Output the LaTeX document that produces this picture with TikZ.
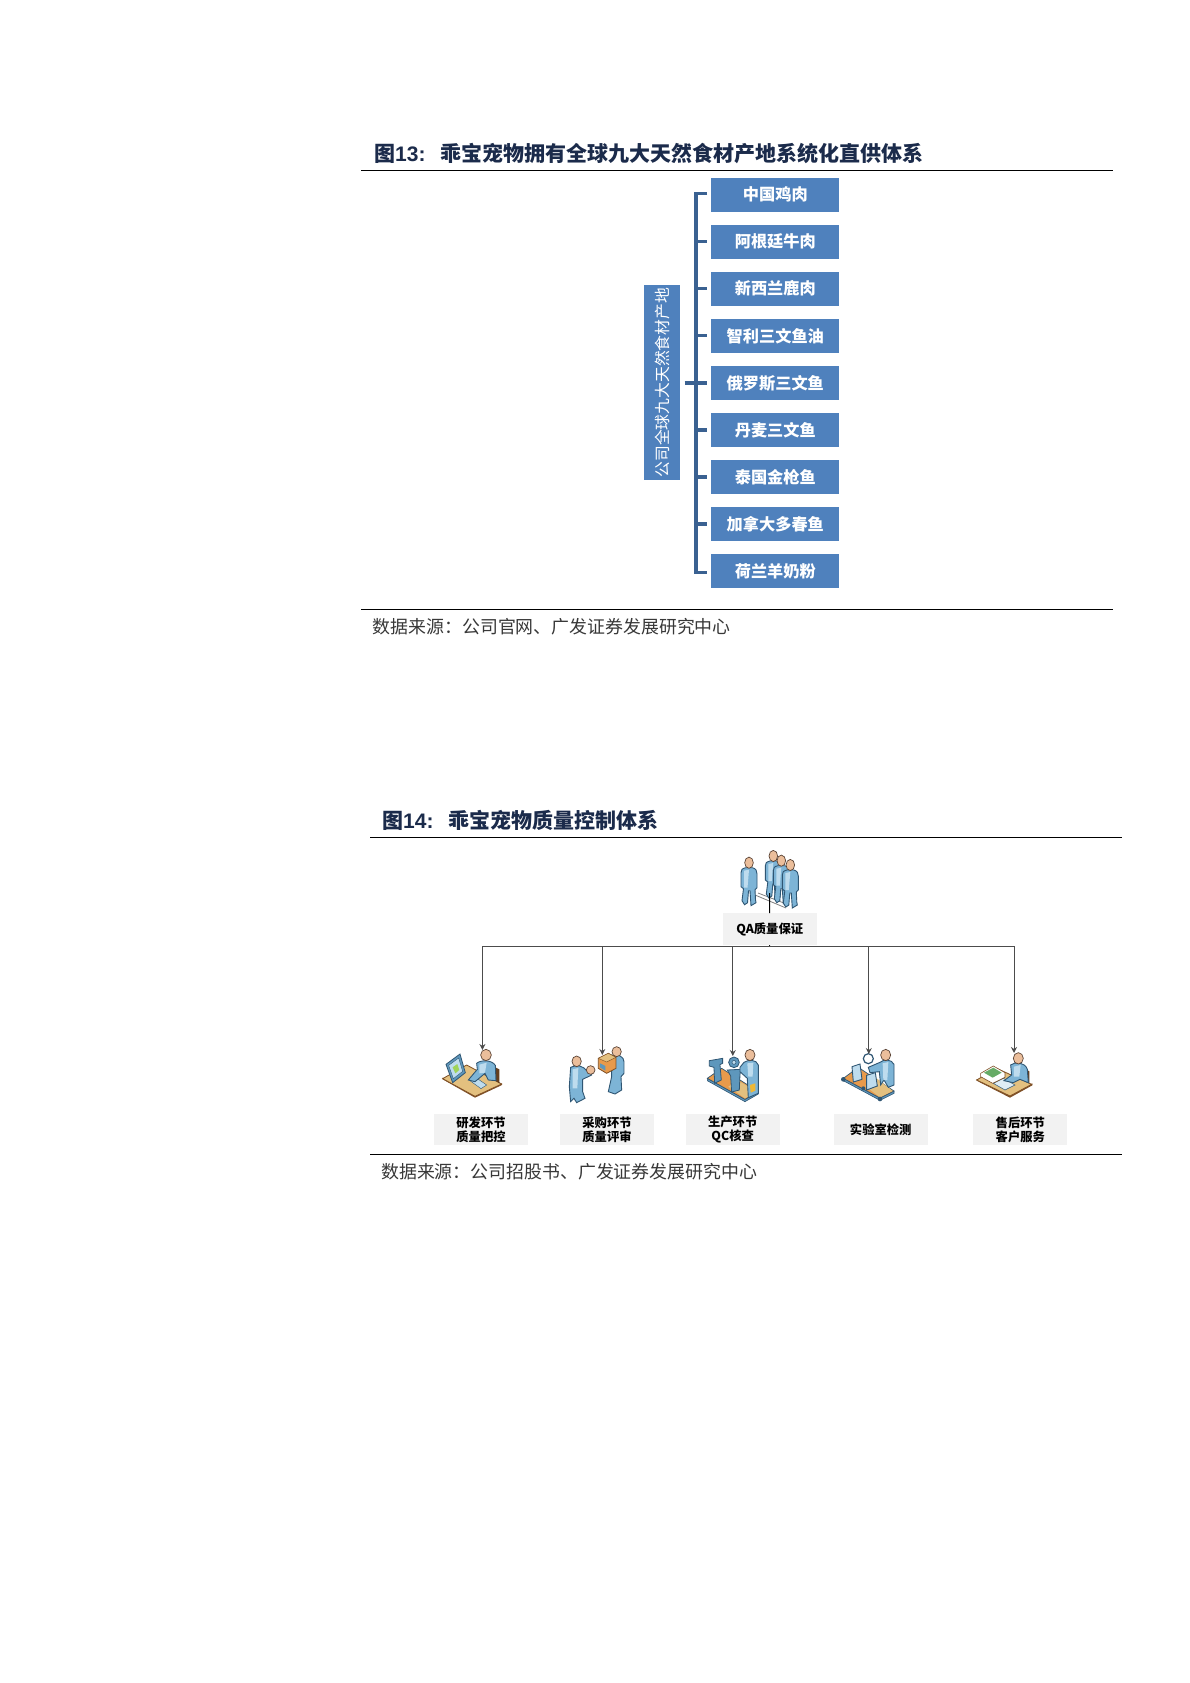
\documentclass[tikz,border=0pt]{standalone}
\usepackage{fontspec}
\usetikzlibrary{arrows.meta,calc}
\newfontfamily\cjkf{Noto Sans CJK SC}
\newfontfamily\latf{Liberation Sans}
\definecolor{navy}{HTML}{1B2B4B}
\definecolor{boxblue}{HTML}{4F81BD}
\definecolor{brk}{HTML}{3A6191}
\definecolor{pale}{HTML}{F2F2F2}
\definecolor{shirt}{HTML}{7DB4D6}
\definecolor{shirtd}{HTML}{5E97BC}
\definecolor{shirtl}{HTML}{BEDCEE}
\definecolor{edgeb}{HTML}{2F5673}
\definecolor{skin}{HTML}{EBBE9B}
\definecolor{skinedge}{HTML}{5B4436}
\definecolor{wood}{HTML}{E3C07F}
\definecolor{woodd}{HTML}{7E4F25}
\definecolor{belt}{HTML}{E89A4B}
\definecolor{machine}{HTML}{5E97BC}
\tikzset{
  x=1pt,y=-1pt,
  ttl/.style={anchor=west,inner sep=0pt,text=navy,font=\cjkf\bfseries\fontsize{21}{21}\selectfont},
  src/.style={anchor=west,inner sep=0pt,text=black!78,font=\cjkf\fontsize{17.9}{18}\selectfont},
  rulel/.style={line width=1pt,black},
  srcbox/.style={fill=boxblue,draw=none,minimum width=128pt,minimum height=34pt,inner sep=0pt,text=white,font=\cjkf\bfseries\fontsize{16.2}{16}\selectfont},
  rootbox/.style={fill=boxblue,draw=none,minimum width=36pt,minimum height=194.5pt,inner sep=0pt,text=white,font=\cjkf\fontsize{15.8}{16}\selectfont},
  brack/.style={line width=3.2pt,brk},
  stepbox/.style={fill=pale,draw=none,minimum width=94pt,minimum height=31pt,inner sep=0pt,align=center,text=black,font=\cjkf\bfseries\fontsize{12.3}{14.3}\selectfont},
  conn/.style={line width=1pt,black!70},
  arr/.style={conn,-{Stealth[length=6pt,width=6pt]}},
  skinp/.style={fill=skin,draw=skinedge,line width=.7pt},
  shirtp/.style={fill=shirt,draw=edgeb,line width=.9pt},
  woodp/.style={fill=wood,draw=woodd,line width=.8pt},
  mach/.style={fill=machine,draw=edgeb,line width=.8pt},
  standing/.pic={
    \path[shirtp] (-3.5,5) -- (3.5,5) .. controls (7,6) and (8,8) .. (8,11) -- (8,25) -- (6,27) -- (6.5,37) -- (7,40) -- (2,43) -- (1,28) -- (-.5,28) -- (-1.5,40) -- (-4.5,42) -- (-7,38) -- (-5.5,26) -- (-8,24) -- (-8,10) .. controls (-8,7) and (-7,6) .. (-3.5,5) -- cycle;
    \fill[shirtl] (-5,8) -- (0,7) -- (-1.5,25) -- (-5,25) -- cycle;
    \path[skinp] (0,0) ellipse (4.3pt and 5.6pt);
  }
}
\begin{document}
\begin{tikzpicture}
\useasboundingbox (0,0) rectangle (1190,1683);
\fill[white] (0,0) rectangle (1190,1683);

% ---------- Figure 13
\node[ttl] (t13) at (374,154) {图{\latf 13:}\hspace{14.5pt}乖宝宠物拥有全球九大天然食材产地系统化直供体系};
\coordinate (r13a) at (361,170.5); \coordinate (r13b) at (1113,170.5);
\draw[rulel] (r13a) -- (r13b);
\coordinate (r13c) at (361,609.3); \coordinate (r13d) at (1113,609.3);
\draw[rulel] (r13c) -- (r13d);
\node[src] (s13) at (372.5,626.5) {数据来源：公司官网、广发证券发展研究中心};

\node[rootbox] (root) at (662.3,382.7) {\rotatebox{90}{公司全球九大天然食材产地}};
\node[srcbox] (b1) at (775.3,194.7) {中国鸡肉};
\node[srcbox] (b2) at (775.3,241.7) {阿根廷牛肉};
\node[srcbox] (b3) at (775.3,288.7) {新西兰鹿肉};
\node[srcbox] (b4) at (775.3,335.8) {智利三文鱼油};
\node[srcbox] (b5) at (775.3,383) {俄罗斯三文鱼};
\node[srcbox] (b6) at (775.3,430) {丹麦三文鱼};
\node[srcbox] (b7) at (775.3,477) {泰国金枪鱼};
\node[srcbox] (b8) at (775.3,524) {加拿大多春鱼};
\node[srcbox] (b9) at (775.3,571.3) {荷兰羊奶粉};
\coordinate (spine) at (696,383);
\draw[brack,line cap=butt,line join=miter] ($(b1.west)+(-4,-1.2)$) -- ($(spine|-b1.west)+(0,-1.2)$) -- ($(spine|-b9.west)+(0,1.2)$) -- ($(b9.west)+(-4,1.2)$);
\foreach \n in {b2,b3,b4,b6,b7,b8}{
  \draw[brack,shorten >=4pt] (spine|-\n.west) -- (\n.west);
}
\draw[brack,line width=4pt,shorten <=4pt,shorten >=4pt] (root.east) -- (root.east-|b5.west);

% ---------- Figure 14
\node[ttl] (t14) at (382,820.7) {图{\latf 14:}\hspace{14.5pt}乖宝宠物质量控制体系};
\coordinate (r14a) at (370,837.3); \coordinate (r14b) at (1121.7,837.3);
\draw[rulel] (r14a) -- (r14b);
\coordinate (r14c) at (370,1154.3); \coordinate (r14d) at (1121.7,1154.3);
\draw[rulel] (r14c) -- (r14d);
\node[src] (s14) at (381,1171.7) {数据来源：公司招股书、广发证券发展研究中心};

% group of people
\draw[black!50,line width=.8pt] (755,895) -- (786,908) (758,893) -- (789,905);
\pic at (749,862.7) {standing};
\pic at (773.3,856) {standing};
\pic at (781.3,860.7) {standing};
\pic at (790.3,865) {standing};
\coordinate (people) at (769.5,893);
\node[stepbox,minimum width=94pt,minimum height=31.7pt,font=\cjkf\bfseries\fontsize{12.3}{14}\selectfont] (qa) at (769.7,929.2) {QA质量保证};
\coordinate (hub) at (769.5,946.3);
\draw[black,line width=1pt] (people) -- (qa.north);
\draw[black,line width=1pt] (qa.south) -- (hub);

\node[stepbox] (c1) at (481,1129.5) {研发环节\\质量把控};
\node[stepbox] (c2) at (607,1129.5) {采购环节\\质量评审};
\node[stepbox] (c3) at (732.7,1129.5) {生产环节\\QC核查};
\node[stepbox] (c4) at (880.7,1129.5) {实验室检测};
\node[stepbox] (c5) at (1020.3,1129.5) {售后环节\\客户服务};

% icons, in 3x crop coordinates
\begin{scope}[shift={(420,1030)},x=.3333pt,y=-.3333pt]
  % --- icon 1: R&D desk
  \path[fill=woodd] (68,148) -- (165,203) -- (246,165) -- (246,160) -- (165,197) -- (68,143) -- cycle;
  \path[woodp] (68,146) -- (140,105) -- (245,162) -- (165,199) -- cycle;
  \path[fill=woodd!80!black] (226,112) -- (238,118) -- (238,160) -- (226,152) -- cycle;
  \path[mach] (78,103) -- (120,72) -- (136,128) -- (98,158) -- cycle;
  \path[fill=shirtl,draw=edgeb,line width=.4pt] (86,106) -- (116,84) -- (128,124) -- (100,146) -- cycle;
  \path[fill=wood!70!green,draw=none] (98,112) -- (112,102) -- (118,120) -- (106,130) -- cycle;
  \path[fill=shirtl,draw=edgeb,line width=.4pt] (150,152) -- (168,143) -- (200,165) -- (183,176) -- cycle;
  \path[shirtp] (170,100) .. controls (180,90) and (215,88) .. (226,106) -- (228,152) -- (205,150) -- (195,130) -- (165,155) -- (145,150) -- (172,118) -- cycle;
  \fill[shirtl] (178,104) -- (200,98) -- (195,128) -- (178,130) -- cycle;
  \path[skinp] (198,75) ellipse (16 and 17);
  % --- icon 2: buyer and seller
  \path[shirtp] (575,75) .. controls (595,72) and (612,80) .. (612,95) -- (612,130) -- (603,140) -- (605,180) -- (585,192) -- (565,185) -- (575,140) -- (575,120) -- cycle;
  \path[skinp] (590,65) ellipse (14 and 15);
  \path[shirtp] (452,112) .. controls (470,102) and (490,108) .. (500,122) -- (515,122) -- (515,135) -- (488,148) -- (488,185) -- (495,205) -- (470,218) -- (462,205) -- (452,215) -- (448,170) -- cycle;
  \fill[shirtl] (458,118) -- (475,114) -- (472,175) -- (458,175) -- cycle;
  \path[skinp] (470,94) ellipse (14 and 16);
  \path[skinp] (512,120) ellipse (13 and 13);
  \path[fill=belt,draw=woodd,line width=.8pt] (535,85) -- (565,70) -- (588,82) -- (588,115) -- (560,130) -- (535,115) -- cycle;
  \path[fill=wood,draw=woodd,line width=.4pt] (535,85) -- (565,70) -- (588,82) -- (560,96) -- cycle;
  \path[fill=shirtd,draw=none] (540,100) -- (556,108) -- (556,122) -- (540,112) -- cycle;
  % --- icon 3: production line
  \path[fill=shirtd,draw=edgeb,line width=.6pt] (862,145) -- (975,208) -- (1015,185) -- (1015,192) -- (975,215) -- (862,152) -- cycle;
  \path[fill=belt,draw=edgeb,line width=.7pt] (862,145) -- (905,115) -- (1015,185) -- (975,208) -- cycle;
  \path[fill=wood,draw=none] (925,170) -- (955,152) -- (1010,185) -- (975,205) -- cycle;
  \path[mach] (868,92) -- (908,85) -- (908,100) -- (900,104) -- (904,150) -- (884,160) -- (882,112) -- (868,108) -- cycle;
  \path[mach] (922,120) -- (962,118) -- (960,135) -- (958,180) -- (935,186) -- (932,138) -- cycle;
  \path[fill=shirtd,draw=edgeb,line width=.8pt] (942,97) circle (16);
  \path[fill=shirtl,draw=edgeb,line width=.5pt] (942,97) circle (6);
  \path[shirtp] (972,97) .. controls (985,88) and (1010,88) .. (1015,105) -- (1015,190) -- (985,203) -- (982,145) -- (960,125) -- (960,112) -- cycle;
  \fill[shirtl] (982,100) -- (1000,98) -- (998,140) -- (985,140) -- cycle;
  \path[fill=belt!70!yellow,draw=none] (990,165) -- (1006,160) -- (1006,182) -- (992,188) -- cycle;
  \path[skinp] (990,75) ellipse (15 and 17);
\end{scope}
\begin{scope}[shift={(780,1030)},x=.3333pt,y=-.3333pt]
  % --- icon 4: laboratory
  \path[fill=shirtd,draw=edgeb,line width=.6pt] (190,145) -- (300,204) -- (342,183) -- (342,190) -- (300,211) -- (190,152) -- cycle;
  \path[fill=belt,draw=edgeb,line width=.7pt] (190,145) -- (235,112) -- (342,183) -- (300,204) -- cycle;
  \path[fill=wood,draw=none] (255,168) -- (290,145) -- (338,183) -- (300,202) -- cycle;
  \path[fill=shirtl,draw=edgeb,line width=.9pt] (216,110) -- (240,102) -- (246,148) -- (220,156) -- cycle;
  \path[fill=shirtl,draw=edgeb,line width=.9pt] (260,136) -- (286,128) -- (292,168) -- (260,180) -- cycle;
  \path[shirtp] (300,97) .. controls (312,86) and (335,88) .. (342,103) -- (342,165) -- (325,172) -- (312,150) -- (302,165) -- (298,125) -- (270,128) -- (265,112) -- cycle;
  \fill[shirtl] (308,100) -- (325,96) -- (322,150) -- (310,150) -- cycle;
  \path[fill=white,draw=edgeb,line width=1.2pt] (265,86) circle (15);
  \path[skinp] (317,75) ellipse (15 and 17);
  \fill[edgeb] (190,148) circle (7) (300,207) circle (7) (250,175) circle (6);
  % --- icon 5: after-sales desk
  \path[fill=woodd] (590,152) -- (690,203) -- (757,166) -- (757,160) -- (690,197) -- (590,147) -- cycle;
  \path[woodp] (590,150) -- (650,115) -- (755,163) -- (690,198) -- cycle;
  \path[fill=woodd!80!black] (738,118) -- (748,124) -- (748,160) -- (738,155) -- cycle;
  \path[fill=shirtl!50!white,draw=edgeb,line width=.5pt] (640,160) -- (670,145) -- (705,165) -- (675,180) -- cycle;
  \path[fill=white,draw=woodd,line width=.6pt] (602,130) -- (640,108) -- (675,128) -- (675,142) -- (638,160) -- (602,140) -- cycle;
  \path[fill=green!45!black!60,draw=none] (612,128) -- (640,113) -- (665,128) -- (638,143) -- cycle;
  \path[shirtp] (692,105) .. controls (705,94) and (735,96) .. (742,118) -- (745,158) -- (720,148) -- (700,158) -- (672,152) -- (695,135) -- cycle;
  \fill[shirtl] (702,110) -- (722,105) -- (718,140) -- (702,140) -- cycle;
  \path[skinp] (715,85) ellipse (15 and 17);
\end{scope}

% arrow targets
\coordinate (a1) at (482.4,1050);
\coordinate (a2) at (602.3,1055);
\coordinate (a3) at (732.8,1056);
\coordinate (a4) at (868.8,1054);
\coordinate (a5) at (1014,1053);
\draw[conn] (hub-|a1) -- (hub-|a5);
\foreach \n in {a1,a2,a3,a4,a5}{
  \draw[arr] (hub-|\n) -- (\n);
}
\end{tikzpicture}
\end{document}
